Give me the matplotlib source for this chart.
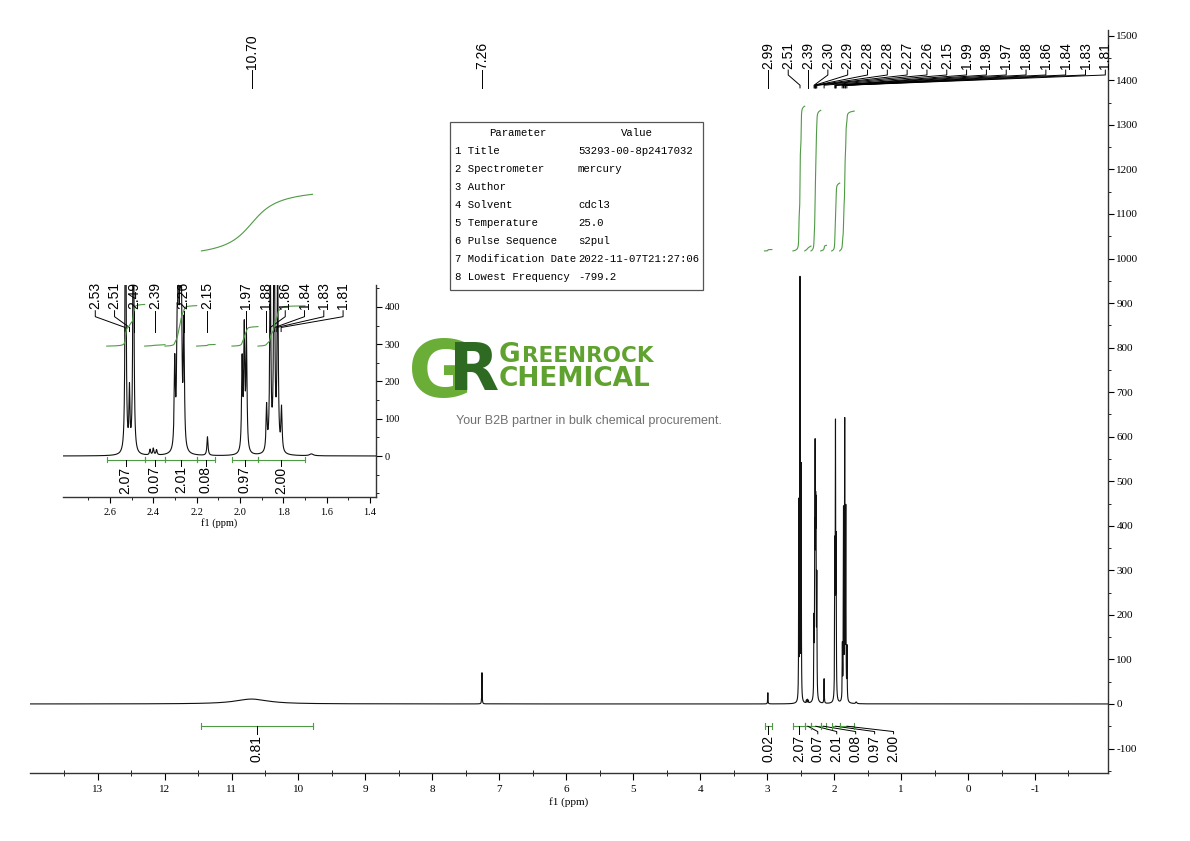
import numpy as np
import matplotlib
matplotlib.use('Agg')
import matplotlib.pyplot as plt
from matplotlib.ticker import MultipleLocator, FixedLocator, FormatStrFormatter
from matplotlib.patches import Rectangle

plt.rcParams['font.family'] = 'Liberation Serif'
plt.rcParams['axes.unicode_minus'] = False

W, H = 1190, 841

# spectrum lines: position (ppm), height in full view, height in zoom view, half width (ppm)
line_ppm = [10.70, 7.26, 2.99, 2.528, 2.510, 2.492, 2.415, 2.400, 2.385,
            2.301, 2.290, 2.284, 2.276, 2.270, 2.259, 2.150,
            1.990, 1.980, 1.970, 1.877, 1.860, 1.842, 1.826, 1.808, 1.670]
main_height = [11, 70, 25, 440, 940, 520, 6, 8, 6,
               160, 280, 475, 325, 355, 255, 55,
               320, 585, 330, 120, 420, 615, 420, 115, 4]
zoom_height = [11, 70, 25, 900, 160, 900, 15, 18, 14,
               230, 260, 480, 480, 330, 330, 50,
               240, 320, 300, 120, 520, 700, 520, 115, 5]
line_hwhm = [0.30, 0.003, 0.003, 0.0026, 0.0026, 0.0026, 0.003, 0.003, 0.003,
             0.003, 0.003, 0.003, 0.003, 0.003, 0.003, 0.003,
             0.003, 0.003, 0.003, 0.003, 0.003, 0.003, 0.003, 0.003, 0.01]

# peak picking labels
main_labels = [10.70, 7.26, 2.99, 2.51, 2.39, 2.30, 2.29, 2.28, 2.28, 2.27, 2.26,
               2.15, 1.99, 1.98, 1.97, 1.88, 1.86, 1.84, 1.83, 1.81]
zoom_labels = [2.53, 2.51, 2.49, 2.39, 2.26, 2.15, 1.97, 1.88, 1.86, 1.84, 1.83, 1.81]

# integral regions
int_hi = [11.45, 3.04, 2.615, 2.44, 2.346, 2.20, 2.037, 1.917]
int_lo = [9.79, 2.93, 2.44, 2.346, 2.20, 2.115, 1.917, 1.70]
int_val = [0.81, 0.02, 2.07, 0.07, 2.01, 0.08, 0.97, 2.00]

# parameter table
param_names = ["Title", "Spectrometer", "Author", "Solvent", "Temperature",
               "Pulse Sequence", "Modification Date", "Lowest Frequency"]
param_values = ["53293-00-8p2417032", "mercury", "", "cdcl3", "25.0",
                "s2pul", "2022-11-07T21:27:06", "-799.2"]

GREEN = '#4f9a45'


def fig_box(left, top, right, bottom):
    return [left / W, 1 - bottom / H, (right - left) / W, (bottom - top) / H]


def spectrum(x, heights):
    y = np.zeros_like(x)
    for p, h, w in zip(line_ppm, heights, line_hwhm):
        y += h / (1 + ((x - p) / w) ** 2)
    return y


def spread(vals, step, anchor=0):
    # keep labels apart; labels right of anchor pushed right, left of it pushed left
    pos = list(vals)
    for i in range(anchor + 1, len(vals)):
        pos[i] = min(vals[i], pos[i - 1] - step)
    for i in range(anchor - 1, -1, -1):
        pos[i] = max(vals[i], pos[i + 1] + step)
    return pos


def label_peaks(axis, peaks, step, anchor, y_text, lead):
    pos = spread(peaks, step, anchor)
    for p, lx in zip(peaks, pos):
        axis.plot([lx, lx, p, p], lead, color='k', lw=0.7, clip_on=False)
        axis.text(lx, y_text, f"{p:.2f}", rotation=90, ha='center', va='bottom',
                  fontsize=10, family='Liberation Sans', clip_on=False)


def integrals(axis, x, y, idx, base, scale, bar_y, cap, step, lead, y_text):
    centers = [(int_hi[i] + int_lo[i]) / 2 for i in idx]
    pos = spread(centers, step, 0)
    for i, c, lx in zip(idx, centers, pos):
        hi, lo, v = int_hi[i], int_lo[i], int_val[i]
        m = (x >= lo) & (x <= hi)
        xs, ys = x[m][::-1], y[m][::-1]
        cum = np.cumsum(ys)
        axis.plot(xs, base + cum / cum[-1] * v * scale, color=GREEN, lw=0.8)
        axis.plot([hi, lo], [bar_y, bar_y], color=GREEN, lw=0.8)
        for e in (hi, lo):
            axis.plot([e, e], [bar_y - cap, bar_y + cap], color=GREEN, lw=0.8)
        axis.plot([c, lx, lx], [bar_y, lead[0], lead[1]], color='k', lw=0.7, clip_on=False)
        axis.text(lx, y_text, f"{v:.2f}", rotation=90, ha='center', va='top',
                  fontsize=10, family='Liberation Sans', clip_on=False)


fig = plt.figure(figsize=(W / 100, H / 100), dpi=100)

# ---- full spectrum ----
ax = fig.add_axes(fig_box(30, 30, 1108, 773))
x = np.linspace(-2.2, 14.1, 163001)
y = spectrum(x, main_height)
ax.plot(x, y, color='#111111', lw=0.8)
ax.set_xlim(14.01, -2.09)
ax.set_ylim(-155, 1513)

label_peaks(ax, main_labels, 0.296, 4, 1426, [1423, 1412, 1389, 1383])
integrals(ax, x, y, range(len(int_val)), 1017, 157, -50, 7, 0.283, [-62, -67], -69)

for s in ['left', 'top']:
    ax.spines[s].set_visible(False)
for s in ['right', 'bottom']:
    ax.spines[s].set_color('#333333')
    ax.spines[s].set_linewidth(1.0)
ax.yaxis.tick_right()
ax.xaxis.set_major_locator(FixedLocator(range(-1, 14)))
ax.xaxis.set_minor_locator(FixedLocator(np.arange(-1.5, 14, 1.0)))
ax.yaxis.set_major_locator(MultipleLocator(100))
ax.yaxis.set_minor_locator(MultipleLocator(50))
ax.tick_params(axis='x', which='major', direction='out', length=5, labelsize=8, pad=4)
ax.tick_params(axis='x', which='minor', direction='inout', length=5)
ax.tick_params(axis='y', which='major', direction='out', length=4, labelsize=8, pad=2)
ax.tick_params(axis='y', which='minor', direction='out', length=2.5)
ax.set_xlabel("f1 (ppm)", fontsize=8, labelpad=2)
ax.set_facecolor('none')

# ---- zoomed inset ----
ai = fig.add_axes(fig_box(63, 285, 376, 497))
xi = np.linspace(1.36, 2.83, 14701)
yi = spectrum(xi, zoom_height)
ai.plot(xi, yi, color='#111111', lw=0.8)
ai.set_xlim(2.817, 1.372)
ai.set_ylim(-110, 459)

label_peaks(ai, zoom_labels, 0.089, 3, 394, [390, 374, 345, 334])
inset_idx = [i for i in range(len(int_val)) if int_hi[i] < 2.82]
integrals(ai, xi, yi, inset_idx, 295, 54, -10, 7, 0.088, [-20, -26], -28)

for s in ['left', 'top']:
    ai.spines[s].set_visible(False)
for s in ['right', 'bottom']:
    ai.spines[s].set_color('#333333')
    ai.spines[s].set_linewidth(1.0)
ai.yaxis.tick_right()
ai.xaxis.set_major_locator(FixedLocator([1.4, 1.6, 1.8, 2.0, 2.2, 2.4, 2.6]))
ai.xaxis.set_minor_locator(FixedLocator([1.5, 1.7, 1.9, 2.1, 2.3, 2.5, 2.7]))
ai.yaxis.set_major_locator(FixedLocator([0, 100, 200, 300, 400]))
ai.yaxis.set_minor_locator(FixedLocator([-100, -50, 50, 150, 250, 350, 450]))
ai.xaxis.set_major_formatter(FormatStrFormatter('%.1f'))
ai.tick_params(axis='x', which='major', direction='out', length=4, labelsize=7.5, pad=4)
ai.tick_params(axis='x', which='minor', direction='out', length=2.5)
ai.tick_params(axis='y', which='major', direction='out', length=4, labelsize=7.5, pad=2)
ai.tick_params(axis='y', which='minor', direction='out', length=2.5)
ai.set_xlabel("f1 (ppm)", fontsize=7.5, labelpad=1)
ai.set_facecolor('none')

# ---- parameter table ----
fig.add_artist(Rectangle((450 / W, 1 - 290 / H), 253 / W, 168 / H, transform=fig.transFigure,
                         fill=False, edgecolor='#555555', lw=0.9))
tab_font = dict(family='Liberation Mono', fontsize=7.7, va='center')
fig.text(518 / W, 1 - 133 / H, "Parameter", ha='center', **tab_font)
fig.text(637 / W, 1 - 133 / H, "Value", ha='center', **tab_font)
for i, (n, v) in enumerate(zip(param_names, param_values)):
    yy = 1 - (151 + 18 * i) / H
    fig.text(455 / W, yy, f"{i + 1} {n}", ha='left', **tab_font)
    fig.text(578 / W, yy, v, ha='left', **tab_font)

# ---- watermark logo ----
fig.text(408 / W, 1 - 397 / H, "G", fontsize=57, fontweight='bold', family='DejaVu Sans',
         color='#6aae38', va='baseline', ha='left')
fig.text(449 / W, 1 - 390 / H, "R", fontsize=47, fontweight='bold', family='DejaVu Sans',
         color='#2f6a22', va='baseline', ha='left')
renderer = fig.canvas.get_renderer()
tg = fig.text(499 / W, 1 - 362 / H, "G", fontsize=19, fontweight='bold', family='DejaVu Sans',
              color='#5fa22f', va='baseline', ha='left')
gx = tg.get_window_extent(renderer).x1 / W
fig.text(gx + 1 / W, 1 - 362 / H, "REENROCK", fontsize=15.5, fontweight='bold',
         family='DejaVu Sans', color='#5fa22f', va='baseline', ha='left')
fig.text(499 / W, 1 - 386 / H, "CHEMICAL", fontsize=19, fontweight='bold',
         family='DejaVu Sans', color='#5fa22f', va='baseline', ha='left')
fig.text(456 / W, 1 - 421 / H, "Your B2B partner in bulk chemical procurement.",
         fontsize=9, family='Liberation Sans', color='#707070', va='center', ha='left')

fig.savefig('out.png', dpi=100)
